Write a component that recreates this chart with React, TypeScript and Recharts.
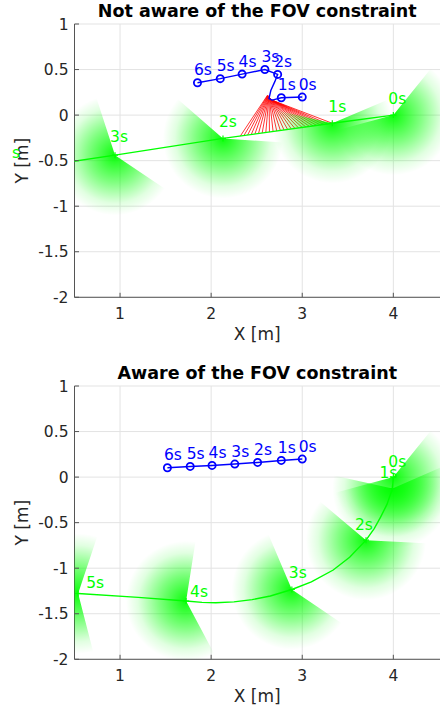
import React from 'react';
import { ScatterChart, Scatter, XAxis, YAxis, CartesianGrid, ReferenceLine } from 'recharts';

// axes
const X_TICKS = [1, 2, 3, 4];
const Y_TICKS = [-2, -1.5, -1, -0.5, 0, 0.5, 1];
const X_DOMAIN: [number, number] = [0.5, 4.6];
const Y_DOMAIN: [number, number] = [-2, 1];
const FOV_RANGE = 0.66; // m

// ---- top panel: not aware of the FOV constraint ----
const topTargetPath = [
  { x: 4.0, y: 0.0 },
  { x: 3.33, y: -0.09 },
  { x: 2.13, y: -0.256 },
  { x: 0.945, y: -0.44 },
  { x: -0.25, y: -0.615 },
];
const topTargetMarks = [
  { x: 4.0, y: 0.0, label: '0s' },
  { x: 3.33, y: -0.09, label: '1s' },
  { x: 2.13, y: -0.256, label: '2s' },
  { x: 0.945, y: -0.44, label: '3s' },
];
const topRobotPath = [
  { x: 3.0, y: 0.198 },
  { x: 2.77, y: 0.19 },
  { x: 2.67, y: 0.165 },
  { x: 2.635, y: 0.18 },
  { x: 2.655, y: 0.27 },
  { x: 2.7, y: 0.37 },
  { x: 2.73, y: 0.447 },
  { x: 2.59, y: 0.5 },
  { x: 2.34, y: 0.45 },
  { x: 2.1, y: 0.4 },
  { x: 1.85, y: 0.355 },
];
const topRobotMarks = [
  { x: 3.0, y: 0.198, label: '0s' },
  { x: 2.77, y: 0.19, label: '1s' },
  { x: 2.73, y: 0.447, label: '2s' },
  { x: 2.59, y: 0.5, label: '3s' },
  { x: 2.34, y: 0.45, label: '4s' },
  { x: 2.1, y: 0.4, label: '5s' },
  { x: 1.85, y: 0.355, label: '6s' },
];
const topFovs = [
  { x: 4.0, y: 0.0, from: 195, to: 411, label: '0s' },
  { x: 3.33, y: -0.09, from: 167, to: 383, label: '1s' },
  { x: 2.13, y: -0.256, from: 139, to: 356, label: '2s' },
  { x: 0.945, y: -0.44, from: 108, to: 326, label: '3s' },
];
// sight lines robot -> target
const rayFromX = [2.62, 2.622, 2.624, 2.626, 2.628, 2.63, 2.632, 2.634, 2.636, 2.638, 2.64, 2.642, 2.644, 2.646, 2.648, 2.65, 2.652, 2.654, 2.656, 2.658, 2.66, 2.661, 2.662, 2.663, 2.664, 2.665];
const rayFromY = [0.22, 0.218, 0.215, 0.212, 0.21, 0.207, 0.204, 0.202, 0.199, 0.196, 0.194, 0.191, 0.188, 0.186, 0.183, 0.18, 0.178, 0.176, 0.174, 0.172, 0.17, 0.169, 0.168, 0.167, 0.166, 0.165];
const rayToX = [2.32, 2.36, 2.4, 2.44, 2.48, 2.52, 2.56, 2.6, 2.64, 2.68, 2.72, 2.76, 2.8, 2.84, 2.88, 2.92, 2.96, 3.0, 3.04, 3.08, 3.12, 3.16, 3.2, 3.24, 3.28, 3.33];
const rayToY = [-0.23, -0.224, -0.219, -0.213, -0.208, -0.202, -0.197, -0.191, -0.186, -0.18, -0.175, -0.169, -0.164, -0.158, -0.152, -0.147, -0.141, -0.136, -0.13, -0.125, -0.119, -0.114, -0.108, -0.103, -0.097, -0.09];

// ---- bottom panel: aware of the FOV constraint ----
const botTargetPath = [
  { x: 4.0, y: 0.0 },
  { x: 3.99, y: -0.125 },
  { x: 3.93, y: -0.3 },
  { x: 3.86, y: -0.44 },
  { x: 3.79, y: -0.565 },
  { x: 3.7, y: -0.692 },
  { x: 3.52, y: -0.88 },
  { x: 3.34, y: -1.02 },
  { x: 3.1, y: -1.15 },
  { x: 2.886, y: -1.234 },
  { x: 2.65, y: -1.305 },
  { x: 2.45, y: -1.345 },
  { x: 2.25, y: -1.37 },
  { x: 2.05, y: -1.38 },
  { x: 1.9, y: -1.375 },
  { x: 1.725, y: -1.36 },
  { x: 1.2, y: -1.32 },
  { x: 0.54, y: -1.278 },
];
const botTargetMarks = [
  { x: 4.0, y: 0.0, label: '0s' },
  { x: 3.99, y: -0.125, label: '1s' },
  { x: 3.7, y: -0.692, label: '2s' },
  { x: 2.886, y: -1.234, label: '3s' },
  { x: 1.725, y: -1.36, label: '4s' },
  { x: 0.54, y: -1.278, label: '5s' },
];
const botRobotMarks = [
  { x: 3.0, y: 0.198, label: '0s' },
  { x: 2.77, y: 0.183, label: '1s' },
  { x: 2.51, y: 0.161, label: '2s' },
  { x: 2.26, y: 0.143, label: '3s' },
  { x: 2.01, y: 0.128, label: '4s' },
  { x: 1.77, y: 0.117, label: '5s' },
  { x: 1.52, y: 0.102, label: '6s' },
];
const botFovs = [
  { x: 4.0, y: 0.0, from: 195, to: 411, label: '0s' },
  { x: 3.99, y: -0.125, from: 167.5, to: 383.5, label: '1s' },
  { x: 3.7, y: -0.692, from: 140, to: 357, label: '2s' },
  { x: 2.886, y: -1.234, from: 113, to: 326, label: '3s' },
  { x: 1.725, y: -1.36, from: 81, to: 298, label: '4s' },
  { x: 0.54, y: -1.278, from: 71.5, to: 284.5, label: '5s' },
];

// layout
const CHART_W = 448;
const PLOT_LEFT = 74.5;
const PLOT_TOP = 24;
const PX = (CHART_W - PLOT_LEFT) / (X_DOMAIN[1] - X_DOMAIN[0]);
const PLOT_H = PX * (Y_DOMAIN[1] - Y_DOMAIN[0]);

// where each target time label sits relative to its point (px)
const TARGET_LABEL_OFFSET: Record<string, [number, number]> = {
  'top-0s': [-5, -11],
  'top-1s': [-4, -11],
  'top-2s': [-4, -11],
  'top-3s': [-5, -13],
  'bot-0s': [-5, -10],
  'bot-1s': [-13, -10],
  'bot-2s': [-11, -10],
  'bot-3s': [-3, -12],
  'bot-4s': [4, -4],
  'bot-5s': [8, -6],
};

const GREEN = '#00ff00';
const BLUE = '#0000ff';
const RED = '#ff0000';
const AXIS = '#555555';
const TEXT = '#262626';
const FONT = '"DejaVu Sans", sans-serif';

const XTick = (props: any) => {
  const { x, y, payload } = props;
  return (
    <g>
      <line x1={x} x2={x} y1={y} y2={y - 4.5} stroke={AXIS} />
      <text x={x} y={y + 21.5} textAnchor="middle" fontSize={15.5} fill={TEXT} fontFamily={FONT}>
        {String(payload.value)}
      </text>
    </g>
  );
};

const YTick = (props: any) => {
  const { x, y, payload } = props;
  return (
    <g>
      <line x1={x} x2={x + 4.5} y1={y} y2={y} stroke={AXIS} />
      <text x={x - 6} y={y + 5.5} textAnchor="end" fontSize={15.5} fill={TEXT} fontFamily={FONT}>
        {String(payload.value)}
      </text>
    </g>
  );
};

const makeFan = (prefix: string) => (props: any) => {
  const { cx, cy, payload } = props;
  if (cx == null || cy == null) return <g />;
  const R = FOV_RANGE * PX;
  const a1 = (payload.from * Math.PI) / 180;
  const a2 = (payload.to * Math.PI) / 180;
  const x1 = cx + R * Math.cos(a1);
  const y1 = cy - R * Math.sin(a1);
  const x2 = cx + R * Math.cos(a2);
  const y2 = cy - R * Math.sin(a2);
  const large = payload.to - payload.from > 180 ? 1 : 0;
  const gid = `fov-${prefix}-${payload.label}`;
  return (
    <g>
      <defs>
        <radialGradient id={gid} gradientUnits="userSpaceOnUse" cx={cx} cy={cy} r={R}>
          <stop offset="0" stopColor={GREEN} stopOpacity={0.95} />
          <stop offset="0.45" stopColor={GREEN} stopOpacity={0.5} />
          <stop offset="0.8" stopColor={GREEN} stopOpacity={0.12} />
          <stop offset="1" stopColor={GREEN} stopOpacity={0} />
        </radialGradient>
      </defs>
      <path
        d={`M${cx},${cy} L${x1},${y1} A${R},${R} 0 ${large} 0 ${x2},${y2} Z`}
        fill={`url(#${gid})`}
        stroke="none"
      />
    </g>
  );
};

const makeTargetMark = (prefix: string) => (props: any) => {
  const { cx, cy, payload } = props;
  if (cx == null) return <g />;
  const [dx, dy] = TARGET_LABEL_OFFSET[`${prefix}-${payload.label}`] || [-4, -11];
  return (
    <g>
      <path d={`M${cx - 3},${cy} H${cx + 3} M${cx},${cy - 3} V${cy + 3}`} stroke={GREEN} strokeWidth={1.2} />
      <text x={cx + dx} y={cy + dy} fontSize={15.5} fill={GREEN} fontFamily={FONT}>
        {payload.label}
      </text>
    </g>
  );
};

const RobotMark = (props: any) => {
  const { cx, cy, payload } = props;
  if (cx == null) return <g />;
  return (
    <g>
      <circle cx={cx} cy={cy} r={3.6} fill="none" stroke={BLUE} strokeWidth={1.8} />
      <text x={cx - 3.5} y={cy - 7.5} fontSize={15.5} fill={BLUE} fontFamily={FONT}>
        {payload.label}
      </text>
    </g>
  );
};

const NoShape = () => <g />;

interface PanelProps {
  id: string;
  title: string;
  height: number;
  fovs: any[];
  targetPath: any[];
  targetMarks: any[];
  robotPath: any[];
  robotMarks: any[];
  rays?: { x1: number; y1: number; x2: number; y2: number }[];
  extra?: React.ReactNode;
}

const Panel: React.FC<PanelProps> = ({ id, title, height, fovs, targetPath, targetMarks, robotPath, robotMarks, rays = [], extra }) => {
  const xAxisH = height - PLOT_TOP - PLOT_H;
  const midX = PLOT_LEFT + (440 - PLOT_LEFT) / 2;
  const plotBottom = PLOT_TOP + PLOT_H;
  const TargetMark = makeTargetMark(id);
  return (
    <div style={{ position: 'relative', width: 440, height, overflow: 'hidden' }}>
      <ScatterChart width={CHART_W} height={height} margin={{ top: PLOT_TOP, right: 0, bottom: 0, left: 0 }}>
        <CartesianGrid stroke="#e3e3e3" strokeWidth={1} />
        <XAxis
          type="number"
          dataKey="x"
          domain={X_DOMAIN}
          ticks={X_TICKS}
          interval={0}
          allowDataOverflow
          height={xAxisH}
          tickSize={0}
          tickMargin={0}
          tickLine={false}
          axisLine={{ stroke: AXIS }}
          tick={(p: any) => <XTick {...p} />}
        />
        <YAxis
          type="number"
          dataKey="y"
          domain={Y_DOMAIN}
          ticks={Y_TICKS}
          interval={0}
          allowDataOverflow
          width={PLOT_LEFT}
          tickSize={0}
          tickMargin={0}
          tickLine={false}
          axisLine={{ stroke: AXIS }}
          tick={(p: any) => <YTick {...p} />}
        />
        <Scatter data={fovs} shape={makeFan(id)} isAnimationActive={false} />
        {rays.map((r, i) => (
          <ReferenceLine
            key={`ray-${i}`}
            segment={[{ x: r.x1, y: r.y1 }, { x: r.x2, y: r.y2 }]}
            stroke={RED}
            strokeWidth={0.8}
          />
        ))}
        <Scatter
          data={targetPath}
          line={{ stroke: GREEN, strokeWidth: 1.4 }}
          lineType="joint"
          shape={NoShape}
          isAnimationActive={false}
        />
        <Scatter
          data={robotPath}
          line={{ stroke: BLUE, strokeWidth: 1.4 }}
          lineType="joint"
          shape={NoShape}
          isAnimationActive={false}
        />
        <Scatter data={targetMarks} shape={TargetMark} isAnimationActive={false} />
        <Scatter data={robotMarks} shape={(p: any) => <RobotMark {...p} />} isAnimationActive={false} />
      </ScatterChart>
      <svg width={440} height={height} style={{ position: 'absolute', left: 0, top: 0, pointerEvents: 'none' }}>
        <text x={midX} y={17} textAnchor="middle" fontSize={17.5} fontWeight="bold" fill="#000" fontFamily={FONT}>
          {title}
        </text>
        <text x={midX} y={plotBottom + 42.5} textAnchor="middle" fontSize={17} fill={TEXT} fontFamily={FONT}>
          X [m]
        </text>
        <text
          x={0}
          y={0}
          transform={`translate(27.5, ${PLOT_TOP + PLOT_H / 2}) rotate(-90)`}
          textAnchor="middle"
          fontSize={17}
          fill={TEXT}
          fontFamily={FONT}
        >
          Y [m]
        </text>
        {extra}
      </svg>
    </div>
  );
};

const topRays = rayToX.map((x2, i) => ({ x1: rayFromX[i], y1: rayFromY[i], x2, y2: rayToY[i] }));

export default function App() {
  return (
    <div style={{ position: 'absolute', left: 0, top: 0, width: 440, height: 713, overflow: 'hidden', background: '#fff' }}>
      <Panel
        id="top"
        title="Not aware of the FOV constraint"
        height={362}
        fovs={topFovs}
        targetPath={topTargetPath}
        targetMarks={topTargetMarks}
        robotPath={topRobotPath}
        robotMarks={topRobotMarks}
        rays={topRays}
        extra={
          <text x={12} y={158} fontSize={15.5} fill={GREEN} fontFamily={FONT}>
            s
          </text>
        }
      />
      <Panel
        id="bot"
        title="Aware of the FOV constraint"
        height={351}
        fovs={botFovs}
        targetPath={botTargetPath}
        targetMarks={botTargetMarks}
        robotPath={botRobotMarks}
        robotMarks={botRobotMarks}
      />
    </div>
  );
}
